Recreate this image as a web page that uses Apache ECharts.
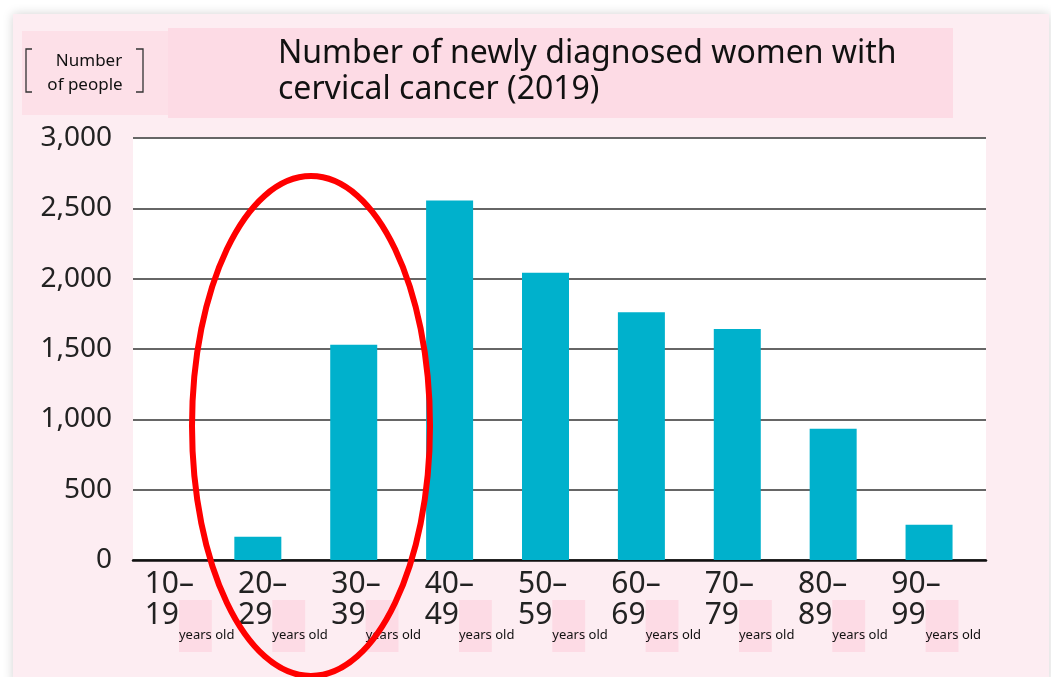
<!DOCTYPE html>
<html><head><meta charset="utf-8">
<script src="https://cdn.jsdelivr.net/npm/echarts@6/dist/echarts.min.js"></script>
<style>html,body{margin:0;padding:0;background:#fff}#c{width:1051px;height:677px}</style>
</head><body><div id="c"></div>
<script>
// ---- data ----
const ageFrom = ['10–','20–','30–','40–','50–','60–','70–','80–','90–'];
const ageTo = ['19','29','39','49','59','69','79','89','99'];
const unitWords = ['years', ' old'];
const patients = [0, 165, 1530, 2555, 2042, 1761, 1642, 933, 251];
const yMin = 0, yMax = 3000, yStep = 500;
const titleLines = ['Number of newly diagnosed women with', 'cervical cancer (2019)'];
const yNameLines = ['Number', 'of people'];

const categories = ageFrom.map((a, i) => a + ageTo[i]);
const FONT = '"Noto Sans", "Open Sans", sans-serif';
const PINK_PANEL = '#fdedf2';
const PINK_BOX = '#fddbe5';

const chart = echarts.init(document.getElementById('c'), null, {renderer: 'canvas'});
const gTop = 138, gBottom = 117;

chart.setOption({
  backgroundColor: '#ffffff',
  animation: false,
  title: {
    text: titleLines.join('\n'),
    left: 273, top: 31,
    textStyle: {fontSize: 32, fontWeight: 'normal', color: '#111', lineHeight: 36, fontFamily: FONT}
  },
  grid: [
    {left: 133, right: 65, top: gTop, bottom: gBottom, show: true, backgroundColor: '#ffffff', borderWidth: 0},
    {left: 114, right: 74, top: gTop, bottom: gBottom},
    {left: 98, right: 113, top: gTop, bottom: gBottom}
  ],
  xAxis: [
    {gridIndex: 0, type: 'value', min: 0, max: 1,
     axisLine: {show: true, onZero: false, lineStyle: {color: '#111', width: 2.5}},
     axisTick: {show: false}, axisLabel: {show: false}, splitLine: {show: false}},
    {gridIndex: 1, type: 'category', data: categories, show: false},
    {gridIndex: 2, type: 'category', data: categories,
     axisLine: {show: false}, axisTick: {show: false},
     axisLabel: {
       interval: 0, align: 'left', verticalAlign: 'top', margin: 9,
       formatter: (v, i) => `{n|${ageFrom[i]}}\n{n|${ageTo[i]}}{yb|${unitWords[0]}}{y|${unitWords[1]}}`,
       rich: {
         n: {fontSize: 30, lineHeight: 31, color: '#222', fontFamily: FONT, verticalAlign: 'top'},
         yb: {fontSize: 13, lineHeight: 14, color: '#111', fontFamily: FONT, verticalAlign: 'top',
              backgroundColor: PINK_BOX, padding: [29, 0, 10, 0]},
         y: {fontSize: 13, lineHeight: 14, color: '#111', fontFamily: FONT, verticalAlign: 'top',
             padding: [29, 0, 10, 0]}
       }
     }}
  ],
  yAxis: [
    {gridIndex: 0, type: 'value', min: yMin, max: yMax, interval: yStep,
     axisLine: {show: false}, axisTick: {show: false},
     axisLabel: {fontSize: 28, color: '#222', margin: 21, fontFamily: FONT},
     splitLine: {lineStyle: {color: '#666', width: 2}}},
    {gridIndex: 1, type: 'value', min: yMin, max: yMax, interval: yStep, show: false},
    {gridIndex: 2, type: 'value', min: yMin, max: yMax, interval: yStep, show: false}
  ],
  series: [{
    type: 'bar', xAxisIndex: 1, yAxisIndex: 1, data: patients,
    barWidth: 47, itemStyle: {color: '#00b1cc'}
  }],
  graphic: [
    {type: 'rect', z: -10, shape: {x: 13, y: 14, width: 1036, height: 670},
     style: {fill: PINK_PANEL, shadowBlur: 10, shadowColor: 'rgba(0,0,0,0.18)'}},
    {type: 'rect', z: -5, shape: {x: 22, y: 31, width: 146, height: 84}, style: {fill: '#fde0e8'}},
    {type: 'rect', z: -5, shape: {x: 168, y: 28, width: 785, height: 90}, style: {fill: PINK_BOX}},
    {type: 'polyline', z: 5, shape: {points: [[32, 49], [26, 49], [26, 92], [32, 92]]},
     style: {stroke: '#333', lineWidth: 1.3, fill: null}},
    {type: 'polyline', z: 5, shape: {points: [[136, 49], [143, 49], [143, 92], [136, 92]]},
     style: {stroke: '#333', lineWidth: 1.3, fill: null}},
    {type: 'text', z: 5, style: {text: yNameLines[0], x: 89, y: 61, align: 'center', verticalAlign: 'middle',
      font: '17px ' + FONT, fill: '#111'}},
    {type: 'text', z: 5, style: {text: yNameLines[1], x: 85, y: 85, align: 'center', verticalAlign: 'middle',
      font: '17px ' + FONT, fill: '#111'}},
    {type: 'ellipse', z: 100, shape: {cx: 311, cy: 426, rx: 119, ry: 250},
     style: {stroke: '#ff0000', lineWidth: 6, fill: null}}
  ]
});
</script></body></html>
